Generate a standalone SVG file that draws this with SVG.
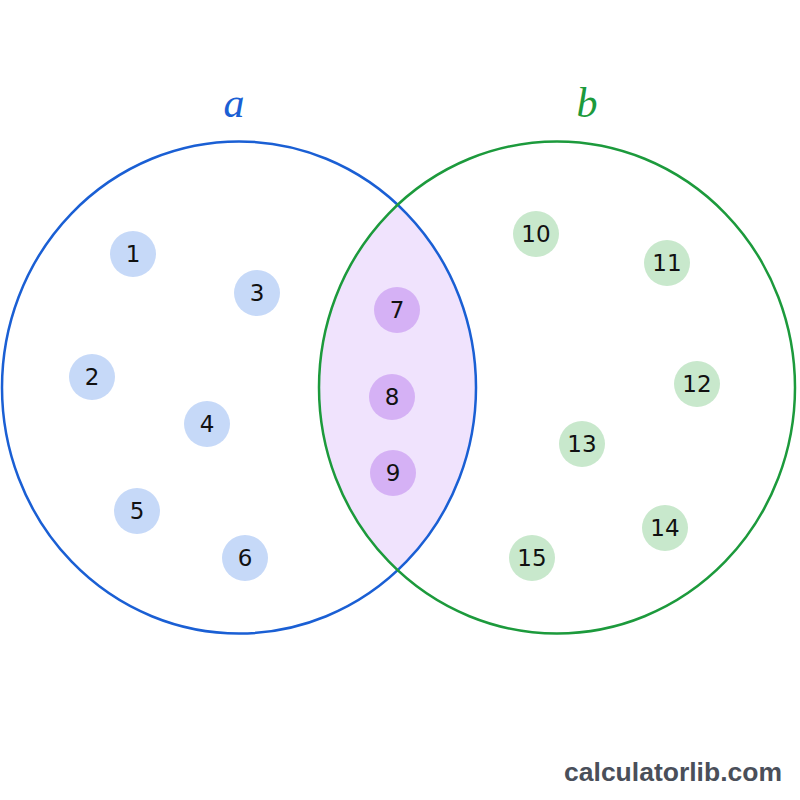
<svg xmlns="http://www.w3.org/2000/svg" width="800" height="800" viewBox="0 0 800 800">
<style>
.n text{font-family:"DejaVu Sans","Noto Sans",sans-serif;font-size:23px;fill:#111;text-anchor:middle;dominant-baseline:central}
.na circle{fill:#c6d9f8}
.nb circle{fill:#c8e8cc}
.nc circle{fill:#d5b1f5}
.lbl{font-family:"Liberation Serif",serif;font-style:italic;font-size:42px;text-anchor:middle}
</style>
<defs>
<clipPath id="clipA"><ellipse cx="239" cy="387.5" rx="237" ry="246"/></clipPath>
</defs>
<rect width="800" height="800" fill="#ffffff"/>
<g id="lens">
<ellipse cx="557" cy="387.5" rx="238" ry="246" fill="#f0e3fd" clip-path="url(#clipA)"/>
</g>
<g id="setA">
<ellipse cx="239" cy="387.5" rx="237" ry="246" fill="none" stroke="#1a5fd4" stroke-width="2.5"/>
<text class="lbl" x="234" y="117" fill="#1a5fd4">a</text>
</g>
<g id="setB">
<ellipse cx="557" cy="387.5" rx="238" ry="246" fill="none" stroke="#1c9a3c" stroke-width="2.5"/>
<text class="lbl" x="587" y="117" fill="#1c9a3c">b</text>
</g>
<g id="n1" class="n na"><circle cx="133" cy="254" r="23"/><text x="133" y="254">1</text></g>
<g id="n2" class="n na"><circle cx="92" cy="377" r="23"/><text x="92" y="377">2</text></g>
<g id="n3" class="n na"><circle cx="257" cy="293" r="23"/><text x="257" y="293">3</text></g>
<g id="n4" class="n na"><circle cx="207" cy="424" r="23"/><text x="207" y="424">4</text></g>
<g id="n5" class="n na"><circle cx="137" cy="511" r="23"/><text x="137" y="511">5</text></g>
<g id="n6" class="n na"><circle cx="245" cy="558" r="23"/><text x="245" y="558">6</text></g>
<g id="n7" class="n nc"><circle cx="397" cy="310" r="23"/><text x="397" y="310">7</text></g>
<g id="n8" class="n nc"><circle cx="392" cy="397" r="23"/><text x="392" y="397">8</text></g>
<g id="n9" class="n nc"><circle cx="393" cy="473" r="23"/><text x="393" y="473">9</text></g>
<g id="n10" class="n nb"><circle cx="536" cy="234" r="23"/><text x="536" y="234">10</text></g>
<g id="n11" class="n nb"><circle cx="667" cy="263" r="23"/><text x="667" y="263">11</text></g>
<g id="n12" class="n nb"><circle cx="697" cy="384" r="23"/><text x="697" y="384">12</text></g>
<g id="n13" class="n nb"><circle cx="582" cy="444" r="23"/><text x="582" y="444">13</text></g>
<g id="n14" class="n nb"><circle cx="665" cy="528" r="23"/><text x="665" y="528">14</text></g>
<g id="n15" class="n nb"><circle cx="532" cy="558" r="23"/><text x="532" y="558">15</text></g>
<g id="connectors"></g>
<text x="782" y="781" font-family="Liberation Sans,Arial,sans-serif" font-weight="bold" font-size="26.5" fill="#4a4f5a" text-anchor="end">calculatorlib.com</text>
</svg>
